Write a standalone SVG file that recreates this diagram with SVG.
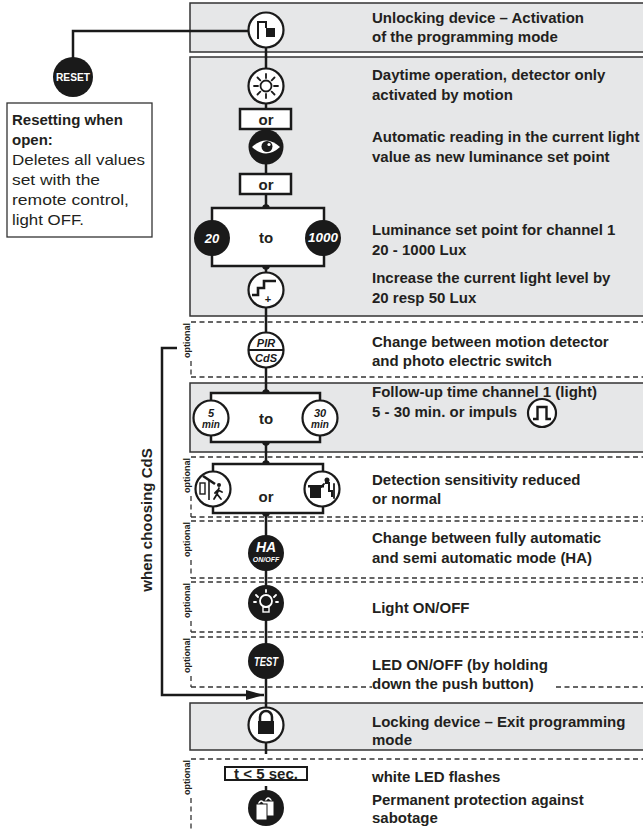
<svg xmlns="http://www.w3.org/2000/svg" width="643" height="831" viewBox="0 0 643 831">
<style>
.panel{fill:#e6e7e8;stroke:#333;stroke-width:1.5}
.dash{stroke:#333;stroke-width:1.3;stroke-dasharray:5 3.5;fill:none}
.wire{stroke:#1a1a1a;stroke-width:2.5;fill:none}
.wc{fill:#fff;stroke:#1a1a1a;stroke-width:2.2}
.bc{fill:#1a1a1a}
.br{fill:#fff;stroke:#1a1a1a;stroke-width:2.5}
.t{font-family:"Liberation Sans",Arial,sans-serif;font-weight:bold;font-size:15px;fill:#231f20}
.r{font-family:"Liberation Sans",Arial,sans-serif;font-size:15px;fill:#231f20}
.opt{font-family:"Liberation Sans",Arial,sans-serif;font-weight:bold;font-size:9px;fill:#231f20}
.wi{font-family:"Liberation Sans",Arial,sans-serif;font-weight:bold;font-style:italic;fill:#fff;text-anchor:middle}
.wn{font-family:"Liberation Sans",Arial,sans-serif;font-weight:bold;fill:#fff;text-anchor:middle}
.ki{font-family:"Liberation Sans",Arial,sans-serif;font-weight:bold;font-style:italic;fill:#1a1a1a;text-anchor:middle}
.ws{stroke:#fff;stroke-width:1.8;fill:none;stroke-linecap:round}
.ks{stroke:#1a1a1a;stroke-width:1.8;fill:none;stroke-linecap:round}
</style>
<defs>
<marker id="arr" viewBox="0 0 18 10" refX="18" refY="5" markerWidth="18" markerHeight="10" markerUnits="userSpaceOnUse" orient="auto">
<path d="M0,0 L18,5 L0,10 Z" fill="#1a1a1a"/>
</marker>
</defs>

<!-- backgrounds -->
<g id="sections">
<rect class="panel" x="190" y="3" width="460" height="49"/>
<rect class="panel" x="190" y="57" width="460" height="259"/>
<rect class="panel" x="190" y="383" width="460" height="69"/>
<rect class="panel" x="190" y="703" width="460" height="47"/>
<path class="dash" d="M191,322 H643 M191,377 H643 M191,361 V377"/>
<path class="dash" d="M191,457 H643 M191,517 H643 M191,496 V517"/>
<path class="dash" d="M191,521 H643 M191,578 H643 M191,560 V578"/>
<path class="dash" d="M191,582 H643 M191,632 H643 M191,621 V632"/>
<path class="dash" d="M191,637 H643 M191,676 V687 M191,687 H372 M556,687 H643"/>
<path class="dash" d="M191,759 H643 M191,798 V831"/>
<text class="opt" transform="translate(190,323) rotate(-90)" text-anchor="end">optional</text>
<text class="opt" transform="translate(190,458) rotate(-90)" text-anchor="end">optional</text>
<text class="opt" transform="translate(190,522) rotate(-90)" text-anchor="end">optional</text>
<text class="opt" transform="translate(190,583) rotate(-90)" text-anchor="end">optional</text>
<text class="opt" transform="translate(190,638) rotate(-90)" text-anchor="end">optional</text>
<text class="opt" transform="translate(190,760) rotate(-90)" text-anchor="end">optional</text>
</g>

<!-- connectors -->
<g id="connectors">
<path class="wire" d="M266,30 V208"/>
<path class="wire" d="M266,266 V393"/>
<path class="wire" d="M266,442 V464"/>
<path class="wire" d="M266,513 V754"/>
<path class="wire" d="M266,786 V808"/>
<path class="wire" d="M250,31 H73 V60"/>
<path class="wire" d="M177,348 H162 V695 H264" marker-end="url(#arr)"/>
<circle class="bc" cx="266" cy="208" r="3.8"/>
<circle class="bc" cx="266" cy="266" r="3.8"/>
<circle class="bc" cx="266" cy="393" r="3.8"/>
<circle class="bc" cx="266" cy="442" r="3.8"/>
<circle class="bc" cx="266" cy="464" r="3.8"/>
<circle class="bc" cx="266" cy="513" r="3.8"/>
</g>

<!-- brackets -->
<g id="bracket-lux">
<rect class="br" x="212" y="208" width="112" height="58"/>
<text class="t" x="266" y="243" text-anchor="middle">to</text>
</g>
<g id="bracket-time">
<rect class="br" x="211" y="393" width="109" height="49"/>
<text class="t" x="266" y="424" text-anchor="middle">to</text>
</g>
<g id="bracket-sens">
<rect class="br" x="213" y="464" width="110" height="49"/>
<text class="t" x="266" y="502" text-anchor="middle">or</text>
</g>

<!-- reset -->
<g id="reset">
<circle class="bc" cx="73" cy="77" r="20"/>
<text class="wn" x="73" y="81" font-size="10" textLength="34" lengthAdjust="spacingAndGlyphs">RESET</text>
</g>
<g id="reset-note">
<rect x="7" y="103" width="145" height="134" fill="#fff" stroke="#333" stroke-width="1.3"/>
<text class="t" x="12" y="125">Resetting when</text>
<text class="t" x="12" y="145">open:</text>
<text class="r" x="12" y="165" textLength="133" lengthAdjust="spacingAndGlyphs">Deletes all values</text>
<text class="r" x="12" y="185" textLength="88" lengthAdjust="spacingAndGlyphs">set with the</text>
<text class="r" x="12" y="205" textLength="117" lengthAdjust="spacingAndGlyphs">remote control,</text>
<text class="r" x="12" y="225" textLength="72" lengthAdjust="spacingAndGlyphs">light OFF.</text>
</g>

<!-- nodes -->
<g id="unlock">
<circle class="wc" cx="266" cy="30" r="17.5"/>
<path d="M258,39 V22 H266 V28" stroke="#1a1a1a" stroke-width="2" fill="none"/>
<rect x="266" y="28" width="9" height="9" fill="#1a1a1a"/>
</g>
<g id="daytime">
<circle class="wc" cx="266" cy="86" r="17.5"/>
<circle cx="266" cy="86" r="5.5" class="ks" stroke-width="1.5"/>
<path class="ks" stroke-width="1.5" d="M266,74 V78 M266,94 V98 M254,86 H258 M274,86 H278 M257.5,77.5 L260.3,80.3 M271.7,91.7 L274.5,94.5 M257.5,94.5 L260.3,91.7 M271.7,80.3 L274.5,77.5"/>
</g>
<g id="or1">
<rect class="br" x="240" y="109" width="51" height="20"/>
<text class="t" x="266" y="125" text-anchor="middle">or</text>
</g>
<g id="autoread">
<circle class="bc" cx="266" cy="147" r="17.5"/>
<path d="M252,147 Q266,134 280,147 Q266,160 252,147 Z" fill="#fff"/>
<circle cx="267" cy="146.5" r="5.5" fill="#1a1a1a"/>
<circle cx="269" cy="144.5" r="1.6" fill="#fff"/>
</g>
<g id="or2">
<rect class="br" x="240" y="174" width="51" height="20"/>
<text class="t" x="266" y="190" text-anchor="middle">or</text>
</g>
<g id="lux20">
<circle class="bc" cx="212" cy="238" r="18"/>
<text class="wi" x="212" y="243" font-size="13">20</text>
</g>
<g id="lux1000">
<circle class="bc" cx="323" cy="238" r="18"/>
<text class="wi" x="323" y="242" font-size="12" textLength="30" lengthAdjust="spacingAndGlyphs">1000</text>
</g>
<g id="increase">
<circle class="wc" cx="266" cy="290" r="17.5"/>
<path d="M252,295 H258 V288 H264 V281 H276" stroke="#1a1a1a" stroke-width="2.6" fill="none"/>
<text x="268" y="303" font-family="Liberation Sans,Arial,sans-serif" font-weight="bold" font-size="11" text-anchor="middle" fill="#1a1a1a">+</text>
</g>
<g id="pircds">
<circle class="wc" cx="266" cy="350" r="17.5"/>
<line x1="249" y1="350" x2="283" y2="350" stroke="#1a1a1a" stroke-width="1.8"/>
<text class="ki" x="266" y="347" font-size="11">PIR</text>
<text class="ki" x="266" y="362" font-size="11">CdS</text>
</g>
<g id="time5">
<circle class="wc" cx="211" cy="418" r="17.5"/>
<text class="ki" x="211" y="417" font-size="11">5</text>
<text class="ki" x="211" y="428" font-size="10">min</text>
</g>
<g id="time30">
<circle class="wc" cx="320" cy="418" r="17.5"/>
<text class="ki" x="320" y="417" font-size="11">30</text>
<text class="ki" x="320" y="428" font-size="10">min</text>
</g>
<g id="sens-reduced">
<circle class="wc" cx="213" cy="489" r="17.5"/>
<rect x="200" y="483" width="5" height="11" fill="none" stroke="#1a1a1a" stroke-width="1.4"/>
<path d="M203,476 L215,484" stroke="#1a1a1a" stroke-width="2.6"/>
<path d="M209,481 V500" stroke="#1a1a1a" stroke-width="1.6"/>
<circle cx="219" cy="485" r="2" fill="#1a1a1a"/>
<path class="ks" stroke-width="1.4" d="M219,488 L217,494 L214,499 M217,494 L221,499 M218,490 L222,492 M218,490 L215,493"/>
</g>
<g id="sens-normal">
<circle class="wc" cx="322" cy="489" r="17.5"/>
<rect x="310" y="487" width="11" height="11" fill="#1a1a1a"/>
<rect x="308" y="485" width="16" height="2.5" fill="#1a1a1a"/>
<circle cx="327" cy="480" r="2.5" fill="#1a1a1a"/>
<path d="M325,483 H329 V491 H332 V497" stroke="#1a1a1a" stroke-width="2" fill="none"/>
<path d="M324,484 L321,487" class="ks" stroke-width="1.5"/>
<path d="M334,484 V498" class="ks" stroke-width="1.3"/>
</g>
<g id="ha">
<circle class="bc" cx="266" cy="553" r="18"/>
<text class="wi" x="266" y="552" font-size="14">HA</text>
<text class="wi" x="266" y="562" font-size="7">ON/OFF</text>
</g>
<g id="light">
<circle class="bc" cx="266" cy="603" r="18"/>
<circle cx="266" cy="601" r="6" class="ws" stroke-width="1.6"/>
<path class="ws" stroke-width="1.5" d="M266,590 V592 M256,595 L258,597 M276,595 L274,597 M254,602 H256 M276,602 H278"/>
<rect x="263" y="607" width="6" height="5" fill="none" stroke="#fff" stroke-width="1.4"/>
</g>
<g id="test">
<circle class="bc" cx="266" cy="661" r="18"/>
<text class="wi" x="266" y="665.5" font-size="12" textLength="24" lengthAdjust="spacingAndGlyphs">TEST</text>
</g>
<g id="lock">
<circle class="wc" cx="266" cy="725" r="17.5"/>
<path d="M260,723 V717 A6,6 0 0 1 272,717 V723" stroke="#1a1a1a" stroke-width="2.5" fill="none"/>
<rect x="258" y="721" width="16" height="13" fill="#1a1a1a"/>
</g>
<g id="delay">
<rect x="225" y="767" width="82" height="13" fill="#fff" stroke="#1a1a1a" stroke-width="2"/>
<text class="t" x="266" y="779" text-anchor="middle" font-size="14">t &lt; 5 sec.</text>
</g>
<g id="sabotage">
<circle class="bc" cx="266" cy="808" r="18"/>
<path d="M265,802 Q268,794 272,802" stroke="#fff" stroke-width="1.3" fill="none"/>
<rect x="263" y="801" width="11" height="15" fill="#fff" stroke="#1a1a1a" stroke-width="1"/>
<path d="M258,805 Q261,797 265,805" stroke="#fff" stroke-width="1.3" fill="none"/>
<rect x="256" y="804" width="11" height="16" fill="#fff" stroke="#1a1a1a" stroke-width="1"/>
</g>
<g id="impuls">
<circle class="wc" cx="542" cy="413" r="14"/>
<path d="M533,419 H537.5 V407 H546.5 V419 H551" stroke="#1a1a1a" stroke-width="2.4" fill="none"/>
</g>

<!-- side label -->
<text class="t" transform="translate(152,520) rotate(-90)" text-anchor="middle" font-size="16">when choosing CdS</text>

<!-- descriptions -->
<g id="descriptions" class="t">
<text x="372" y="23">Unlocking device – Activation</text>
<text x="372" y="42">of the programming mode</text>
<text x="372" y="80">Daytime operation, detector only</text>
<text x="372" y="100">activated by motion</text>
<text x="372" y="142">Automatic reading in the current light</text>
<text x="372" y="162">value as new luminance set point</text>
<text x="372" y="235">Luminance set point for channel 1</text>
<text x="372" y="255">20 - 1000 Lux</text>
<text x="372" y="283">Increase the current light level by</text>
<text x="372" y="303">20 resp 50 Lux</text>
<text x="372" y="347">Change between motion detector</text>
<text x="372" y="366">and photo electric switch</text>
<text x="372" y="397">Follow-up time channel 1 (light)</text>
<text x="372" y="417">5 - 30 min. or impuls</text>
<text x="372" y="485">Detection sensitivity reduced</text>
<text x="372" y="504">or normal</text>
<text x="372" y="543">Change between fully automatic</text>
<text x="372" y="563">and semi automatic mode (HA)</text>
<text x="372" y="613">Light ON/OFF</text>
<text x="372" y="670">LED ON/OFF (by holding</text>
<text x="372" y="689">down the push button)</text>
<text x="372" y="727">Locking device – Exit programming</text>
<text x="372" y="745">mode</text>
<text x="372" y="782">white LED flashes</text>
<text x="372" y="805">Permanent protection against</text>
<text x="372" y="823">sabotage</text>
</g>
</svg>
